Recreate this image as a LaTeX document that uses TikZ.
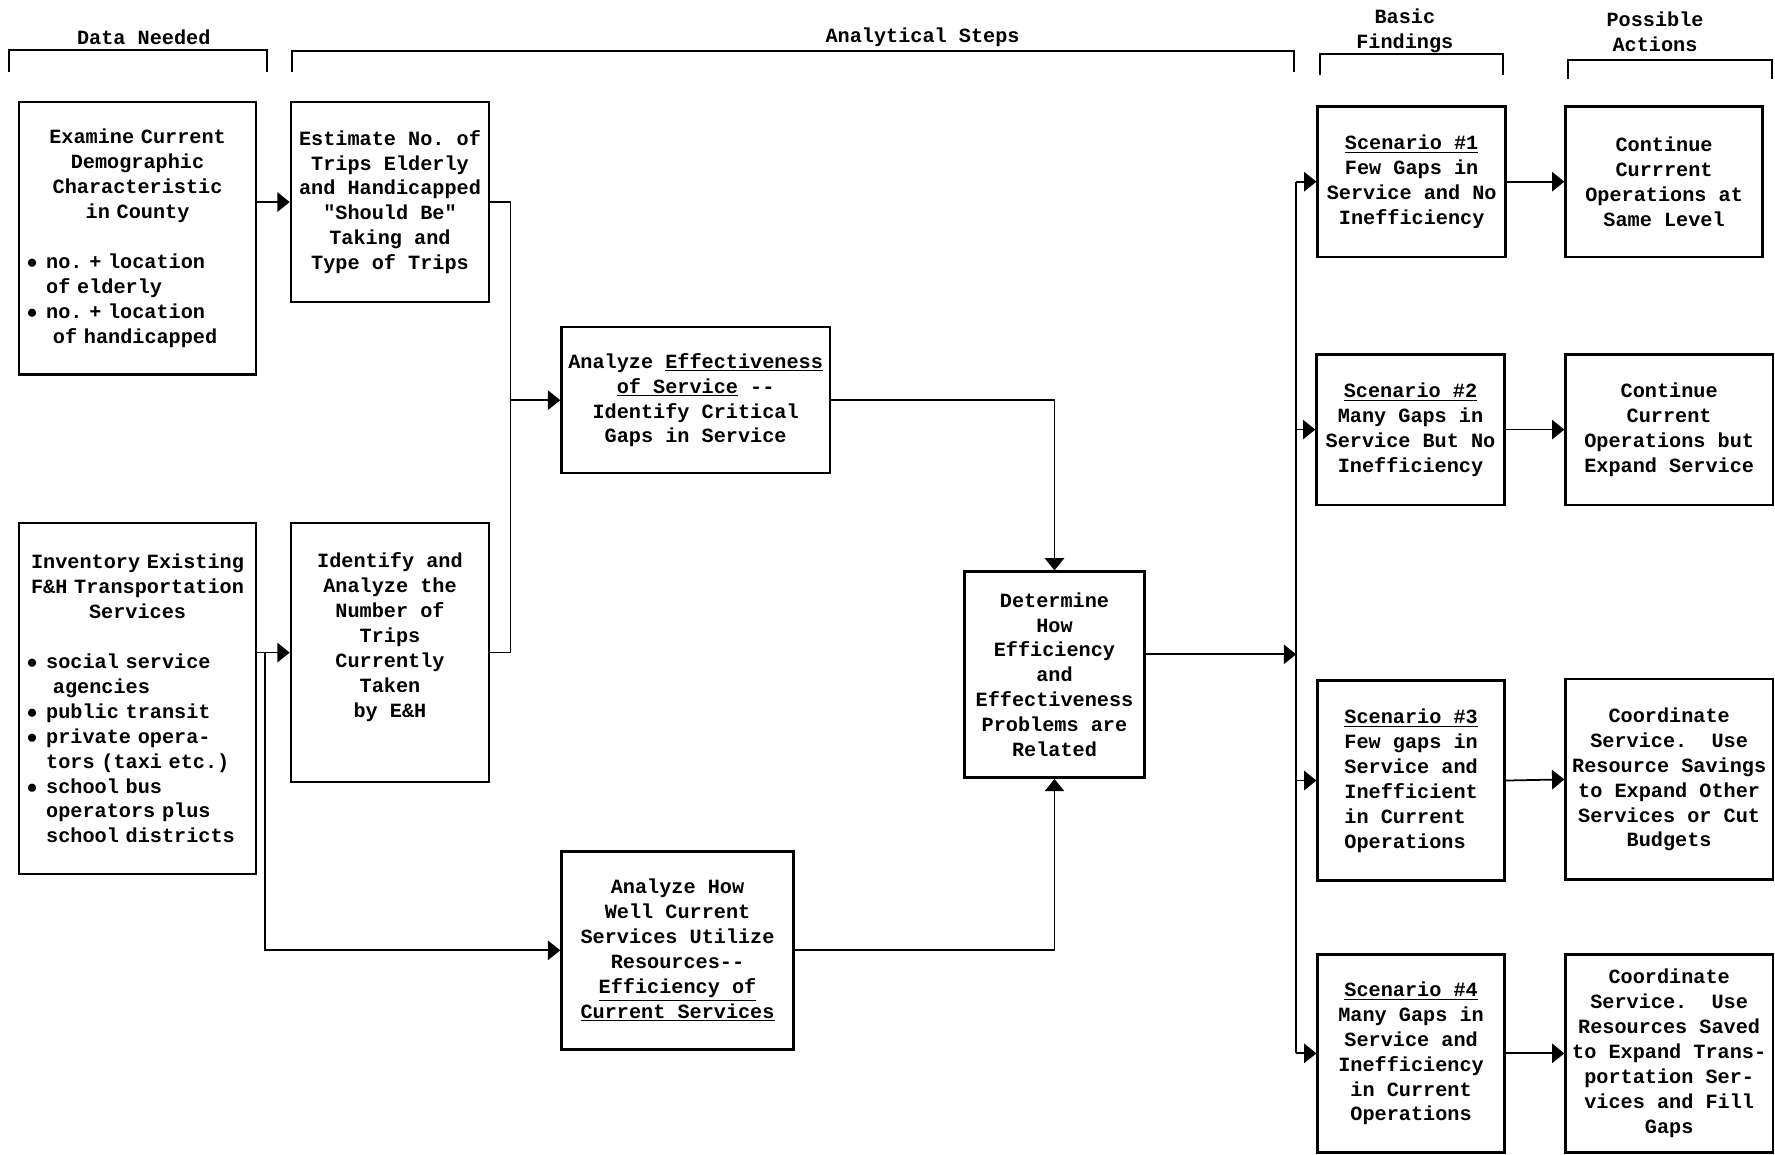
\documentclass[tikz,border=0pt]{standalone}
\usepackage{fontspec}
\setmainfont{Liberation Mono}[Ligatures=TeXOff]
\usepackage{tikz}
\usetikzlibrary{arrows.meta, positioning, calc}
\frenchspacing
\newcommand{\pxu}{0.02264cm}
\newcommand{\ctr}[1]{\makebox[\linewidth]{#1}}
\newcommand{\bul}{\makebox[11pt][l]{$\bullet$}}
\newcommand{\ind}{\hspace*{11pt}}
\tikzset{
  boxsize/.style 2 args={minimum width=#1*\pxu, minimum height=#2*\pxu},
  box/.style={rectangle, draw=black, line width=1.4pt, align=center,
    inner sep=2pt, font=\fontsize{11.5}{14.2}\selectfont\bfseries},
  listbox/.style={box, align=left, text width=126pt},
  hdr/.style={font=\fontsize{11.5}{14.2}\selectfont\bfseries, align=center, inner sep=0pt},
  arrow/.style={-{Triangle[length=7pt,width=11pt]}, line width=1pt},
  line/.style={line width=1pt},
  bracket/.style={line width=1pt}
}

\begin{document}
\begin{tikzpicture}[x=\pxu, y=-\pxu]
  \useasboundingbox (0,0) rectangle (1568,1020);
  \node[hdr] (hdata)  at (127,33)  {Data Needed};
  \node[hdr] (hsteps) at (815,33)  {Analytical Steps};
  \node[hdr] (hfind)  at (1241,27) {Basic\\Findings};
  \node[hdr] (hact)   at (1462,28) {Possible\\Actions};
  \draw[bracket] (8,64) -- (8,44) -- (236,44) -- (236,64);
  \draw[bracket] (258,64) -- (258,45) -- (1143,45) -- (1143,64);
  \draw[bracket] (1166,66) -- (1166,48) -- (1328,48) -- (1328,66);
  \draw[bracket] (1385,70) -- (1385,53) -- (1565,53) -- (1565,70);

  \node[listbox, boxsize={209}{241}] (examine) at (121.5,210.5)
    {\ctr{Examine Current}\\ \ctr{Demographic}\\ \ctr{Characteristic}\\ \ctr{in County}\\[14.2pt]
     \bul no. + location\\ \ind of elderly\\ \bul no. + location\\ \ind~of handicapped};
  \node[box, boxsize={175}{177}] (estimate) at (344.5,178.5)
    {Estimate No. of\\Trips Elderly\\and Handicapped\\"Should Be"\\Taking and\\Type of Trips};
  \node[listbox, boxsize={209}{310}] (inventory) at (121.5,617)
    {\ctr{Inventory Existing}\\ \ctr{F\&H Transportation}\\ \ctr{Services}\\[14.2pt]
     \bul social service\\ \ind~agencies\\ \bul public transit\\ \bul private opera-\\
     \ind tors (taxi etc.)\\ \bul school bus\\ \ind operators plus\\ \ind school districts};
  \node[box, boxsize={175}{229}] (identify) at (344.5,576.5)
    {Identify and\\Analyze the\\Number of\\Trips\\Currently\\Taken\\by E\&H\\[6pt]\mbox{}};
  \node[box, boxsize={237}{129}] (effect) at (614.5,353.5)
    {Analyze \underline{Effectiveness}\\\underline{of Service} -{}-\\Identify Critical\\Gaps in Service};
  \node[box, boxsize={205}{175}] (efficiency) at (598.5,839.5)
    {Analyze How\\Well Current\\Services Utilize\\Resources-{}-\\\underline{Efficiency of}\\\underline{Current Services}};
  \node[box, boxsize={159}{182}] (relate) at (931.5,596)
    {Determine\\How\\Efficiency\\and\\Effectiveness\\Problems are\\Related};

  \node[box, boxsize={166}{133}] (scen1) at (1247,160.5)
    {\underline{Scenario \#1}\\Few Gaps in\\Service and No\\Inefficiency};
  \node[box, boxsize={166}{133}] (scen2) at (1246,379.5)
    {\underline{Scenario \#2}\\Many Gaps in\\Service But No\\Inefficiency};
  \node[box, align=left, boxsize={165}{177}] (scen3) at (1246.5,689.5)
    {\underline{Scenario \#3}\\Few gaps in\\Service and\\Inefficient\\in Current\\Operations};
  \node[box, boxsize={165}{175}] (scen4) at (1246.5,930.5)
    {\underline{Scenario \#4}\\Many Gaps in\\Service and\\Inefficiency\\in Current\\Operations};

  \node[box, boxsize={174}{133}] (act1) at (1470,160.5)
    {Continue\\Currrent\\Operations at\\Same Level};
  \node[box, boxsize={183}{133}] (act2) at (1474.5,379.5)
    {Continue\\Current\\Operations but\\Expand Service};
  \node[box, boxsize={183}{177}] (act3) at (1474.5,688.5)
    {Coordinate\\Service.~~Use\\Resource Savings\\to Expand Other\\Services or Cut\\Budgets};
  \node[box, boxsize={183}{175}] (act4) at (1474.5,930.5)
    {Coordinate\\Service.~~Use\\Resources Saved\\to Expand Trans-\\portation Ser-\\vices and Fill\\Gaps};

  \coordinate (tripsjoin) at (451,353.5);
  \coordinate (invjoin) at (234,576.5);
  \coordinate (trunktop) at (1145,160.5);
  \coordinate (trunkbot) at (1145,930.5);
  \coordinate (trunkin) at (1145,578);

  \draw[arrow] (examine.east |- estimate.west) -- (estimate.west);
  \draw[line] (estimate.east) -| (tripsjoin) |- (identify.east);
  \draw[arrow] (tripsjoin) -- (effect.west);
  \draw[arrow] (inventory.east |- identify.west) -- (identify.west);
  \draw[arrow] (invjoin) |- (efficiency.west);
  \draw[arrow] (effect.east) -| (relate.north);
  \draw[arrow] (efficiency.east) -| (relate.south);
  \draw[arrow] (relate.east |- trunkin) -- (trunkin);
  \draw[line] (trunktop) -- (trunkbot);
  \foreach \s in {1,...,4}
    \draw[arrow] (trunktop |- scen\s.west) -- (scen\s.west);
  \foreach \s in {1,...,4}
    \draw[arrow] (scen\s.east) -- (act\s.west);
\end{tikzpicture}
\end{document}
